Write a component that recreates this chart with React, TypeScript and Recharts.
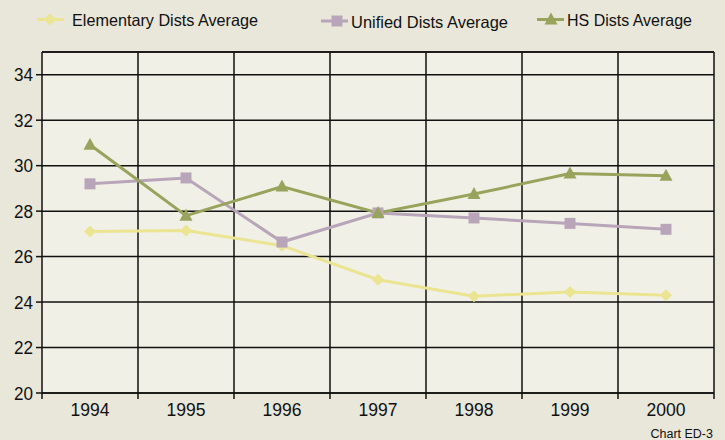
import React from 'react';
import {
  LineChart,
  Line,
  XAxis,
  YAxis,
  CartesianGrid,
  ReferenceLine,
} from 'recharts';

const years = ['1994', '1995', '1996', '1997', '1998', '1999', '2000'];
const elementary = [27.1, 27.15, 26.48, 24.98, 24.26, 24.44, 24.3];
const unified = [29.2, 29.46, 26.64, 27.92, 27.7, 27.46, 27.2];
const hsDists = [30.92, 27.8, 29.08, 27.92, 28.75, 29.65, 29.56];
const yTicks = [20, 22, 24, 26, 28, 30, 32, 34];

const data = years.map((year, i) => ({
  year,
  elementary: elementary[i],
  unified: unified[i],
  hs: hsDists[i],
}));

const FONT = '"Liberation Sans", Arial, sans-serif';
const YELLOW = '#ebe491';
const PURPLE = '#b9a5b9';
const GREEN = '#98a45b';
const BG = '#e8e7d9';
const PLOT_BG = '#f1f0e7';

const Diamond = ({ cx, cy }: any) => (
  <path d={`M${cx},${cy - 6} L${cx + 6},${cy} L${cx},${cy + 6} L${cx - 6},${cy} Z`} fill={YELLOW} />
);
const Square = ({ cx, cy }: any) => (
  <rect x={cx - 5.5} y={cy - 5.5} width={11} height={11} fill={PURPLE} />
);
const Triangle = ({ cx, cy }: any) => (
  <path d={`M${cx},${cy - 7} L${cx + 6.5},${cy + 5} L${cx - 6.5},${cy + 5} Z`} fill={GREEN} />
);

// the original font is a bit narrower than Liberation Sans, so fit the text to its width
const NarrowText = ({ width, children, ...rest }: any) => (
  <text textLength={width} lengthAdjust='spacingAndGlyphs' fontFamily={FONT} fill='#111' {...rest}>
    {children}
  </text>
);

// year label in the middle of the band, tick mark on the band edges
const YearTick = (props: any) => {
  const { x, y, payload, index, visibleTicksCount } = props;
  const half = payload && payload.offset ? payload.offset : 48;
  return (
    <g>
      <line x1={x - half} y1={y} x2={x - half} y2={y + 6} stroke='#111' strokeWidth={1.5} />
      {index === visibleTicksCount - 1 && (
        <line x1={x + half} y1={y} x2={x + half} y2={y + 6} stroke='#111' strokeWidth={1.5} />
      )}
      <NarrowText x={x - 19.5} y={y + 23} width={39} fontSize={18.3}>
        {payload.value}
      </NarrowText>
    </g>
  );
};

const ValueTick = (props: any) => {
  const { x, y, payload } = props;
  return (
    <NarrowText x={x - 19} y={y + 6.5} width={19} fontSize={18.3}>
      {payload.value}
    </NarrowText>
  );
};

const LegendItem = ({ x, y, label, width, color, marker }: any) => (
  <g>
    <line x1={x} y1={y} x2={x + 27} y2={y} stroke={color} strokeWidth={3} />
    {marker === 'diamond' && <Diamond cx={x + 13} cy={y} />}
    {marker === 'square' && <Square cx={x + 16} cy={y} />}
    {marker === 'triangle' && <Triangle cx={x + 14} cy={y} />}
    <NarrowText x={x + (marker === 'diamond' ? 35 : 30)} y={y + 6.5} width={width} fontSize={16.5}>
      {label}
    </NarrowText>
  </g>
);

export default function App() {
  return (
    <div style={{ position: 'fixed', left: 0, top: 0, width: 725, height: 440, background: BG }}>
      <LineChart
        width={725}
        height={440}
        data={data}
        margin={{ top: 52, right: 11, bottom: 17, left: 0 }}
      >
        <CartesianGrid
          fill={PLOT_BG}
          stroke='#111'
          strokeWidth={1.5}
          verticalCoordinatesGenerator={({ offset }: any) =>
            years.map((_, i) => offset.left + ((i + 1) * offset.width) / years.length)
          }
        />
        <ReferenceLine y={35} stroke='#111' strokeWidth={1.5} />
        <XAxis
          dataKey='year'
          scale='band'
          height={30}
          tickLine={false}
          tickSize={0}
          tickMargin={0}
          axisLine={{ stroke: '#111', strokeWidth: 1.5 }}
          tick={<YearTick />}
          interval={0}
        />
        <YAxis
          domain={[20, 35]}
          ticks={yTicks}
          width={42}
          tickSize={6}
          tickMargin={3}
          axisLine={{ stroke: '#111', strokeWidth: 1.5 }}
          tickLine={{ stroke: '#111', strokeWidth: 1.5 }}
          tick={<ValueTick />}
        />
        <Line
          dataKey='elementary'
          stroke={YELLOW}
          strokeWidth={3}
          dot={<Diamond />}
          activeDot={false}
          isAnimationActive={false}
        />
        <Line
          dataKey='unified'
          stroke={PURPLE}
          strokeWidth={3}
          dot={<Square />}
          activeDot={false}
          isAnimationActive={false}
        />
        <Line
          dataKey='hs'
          stroke={GREEN}
          strokeWidth={3}
          dot={<Triangle />}
          activeDot={false}
          isAnimationActive={false}
        />
      </LineChart>
      <svg width={725} height={40} style={{ position: 'absolute', left: 0, top: 0 }}>
        <LegendItem x={37} y={19.5} label='Elementary Dists Average' width={186} color={YELLOW} marker='diamond' />
        <LegendItem x={321} y={21} label='Unified Dists Average' width={157} color={PURPLE} marker='square' />
        <LegendItem x={537} y={19.5} label='HS Dists Average' width={125} color={GREEN} marker='triangle' />
      </svg>
      <svg width={725} height={440} style={{ position: 'absolute', left: 0, top: 0, pointerEvents: 'none' }}>
        <text x={713} y={438} textAnchor='end' fontSize={12.5} fontFamily={FONT} fill='#111'>
          Chart ED-3
        </text>
      </svg>
    </div>
  );
}
